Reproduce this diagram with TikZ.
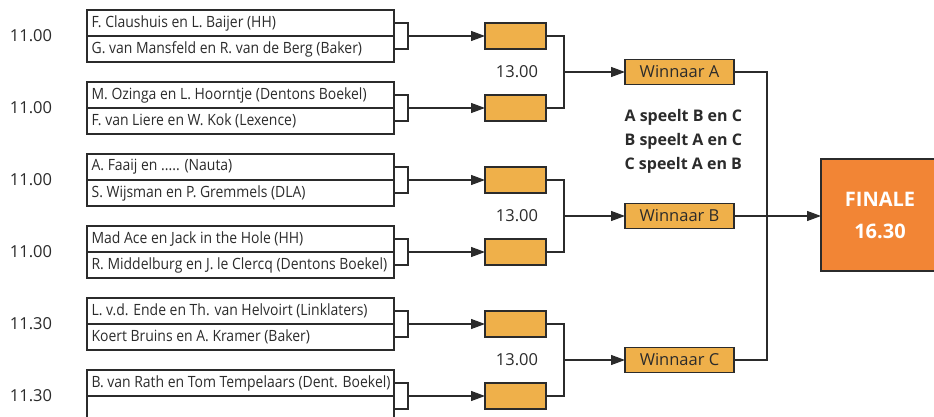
\documentclass[tikz,border=0pt]{standalone}
\usepackage{fontspec}
\setmainfont{Open Sans}
\newfontfamily\namefont[FakeStretch=0.9]{Open Sans}
\usetikzlibrary{arrows.meta,calc}
\definecolor{boxorange}{HTML}{EFB04A}
\definecolor{finorange}{HTML}{F28535}
\definecolor{linecol}{HTML}{2B2B2B}
\begin{document}
\begin{tikzpicture}[x=1pt,y=-1pt,line width=1.2pt,color=linecol,
  pairbox/.style={draw=linecol,minimum width=307pt,minimum height=52pt,inner sep=0pt,outer sep=0pt},
  nametext/.style={anchor=west,font=\namefont\fontsize{15.5}{16}\selectfont,inner sep=0pt},
  timetext/.style={font=\fontsize{16.5}{18}\selectfont,inner sep=0pt},
  obox/.style={draw=linecol,fill=boxorange,minimum width=61pt,minimum height=26pt,inner sep=0pt,outer sep=0pt},
  wbox/.style={draw=linecol,fill=boxorange,minimum width=109pt,minimum height=25pt,inner sep=0pt,outer sep=0pt,font=\fontsize{16.5}{18}\selectfont},
  finbox/.style={draw=linecol,fill=finorange,minimum width=118pt,minimum height=112pt,inner sep=0pt,outer sep=0pt,text=white,align=center,font=\bfseries\fontsize{20}{32}\selectfont},
  arr/.style={-{Triangle[length=14pt,width=10pt]}}
]
\useasboundingbox (0,0) rectangle (934,417);
\fill[white] (0,0) rectangle (934,417);
\clip (0,0) rectangle (934,417);

% pairs
\node[pairbox] (p1) at (240.5,36) {};
\node[pairbox] (p2) at (240.5,108) {};
\node[pairbox] (p3) at (240.5,180) {};
\node[pairbox] (p4) at (240.5,252) {};
\node[pairbox] (p5) at (240.5,324) {};
\node[pairbox] (p6) at (240.5,396) {};
\foreach \p in {p1,p2,p3,p4,p5,p6}{
  \draw (\p.west) -- (\p.east);
  \draw ($(\p.east)+(0,-13)$) -- ++(14,0) -- ++(0,26) -- ++(-14,0);
}

\node[nametext] (n1a) at ($(p1.west)+(4,-13)$) {F. Claushuis en L. Baijer (HH)};
\node[nametext] (n1b) at ($(p1.west)+(4,13)$) {G. van Mansfeld en R. van de Berg (Baker)};
\node[nametext] (n2a) at ($(p2.west)+(4,-13)$) {M. Ozinga en L. Hoorntje (Dentons Boekel)};
\node[nametext] (n2b) at ($(p2.west)+(4,13)$) {F. van Liere en W. Kok (Lexence)};
\node[nametext] (n3a) at ($(p3.west)+(4,-13)$) {A. Faaij en ..... (Nauta)};
\node[nametext] (n3b) at ($(p3.west)+(4,13)$) {S. Wijsman en P. Gremmels (DLA)};
\node[nametext] (n4a) at ($(p4.west)+(4,-13)$) {Mad Ace en Jack in the Hole (HH)};
\node[nametext] (n4b) at ($(p4.west)+(4,13)$) {R. Middelburg en J. le Clercq (Dentons Boekel)};
\node[nametext] (n5a) at ($(p5.west)+(4,-13)$) {L. v.d. Ende en Th. van Helvoirt (Linklaters)};
\node[nametext] (n5b) at ($(p5.west)+(4,13)$) {Koert Bruins en A. Kramer (Baker)};
\node[nametext] (n6a) at ($(p6.west)+(4,-13)$) {B. van Rath en Tom Tempelaars (Dent. Boekel)};

% times
\node[timetext] (t1) at (31,36) {11.00};
\node[timetext] (t2) at (31,108) {11.00};
\node[timetext] (t3) at (31,180) {11.00};
\node[timetext] (t4) at (31,252) {11.00};
\node[timetext] (t5) at (31,324) {11.30};
\node[timetext] (t6) at (31,396) {11.30};

% orange boxes
\node[obox] (o1) at (515.5,36) {};
\node[obox] (o2) at (515.5,108) {};
\node[obox] (o3) at (515.5,180) {};
\node[obox] (o4) at (515.5,252) {};
\node[obox] (o5) at (515.5,324) {};
\node[obox] (o6) at (515.5,396) {};
\foreach \i in {1,...,6}{
  \draw[arr] ($(p\i.east)+(14,0)$) -- (o\i.west);
}

% winners
\node[wbox] (wa) at (679.5,72) {Winnaar A};
\node[wbox] (wb) at (679.5,216) {Winnaar B};
\node[wbox] (wc) at (679.5,360) {Winnaar C};

\draw (o1.east) -- ++(18,0) |- (o2.east);
\draw (o3.east) -- ++(18,0) |- (o4.east);
\draw (o5.east) -- ++(18,0) |- (o6.east);
\draw[arr] ($(o1.east)!0.5!(o2.east)+(18,0)$) -- (wa.west);
\draw[arr] ($(o3.east)!0.5!(o4.east)+(18,0)$) -- (wb.west);
\draw[arr] ($(o5.east)!0.5!(o6.east)+(18,0)$) -- (wc.west);

\node[timetext] (h1) at (517,72) {13.00};
\node[timetext] (h2) at (517,216) {13.00};
\node[timetext] (h3) at (517,360) {13.00};

\node[anchor=west,align=left,inner sep=0pt,font=\bfseries\fontsize{16}{24}\selectfont] (rule) at (624,141) {A speelt B en C\\B speelt A en C\\C speelt A en B};

% finale
\node[finbox] (fin) at (880,215) {FINALE\\16.30};
\draw (wa.east) -- ++(33,0) |- (wc.east);
\draw[arr] (wb.east) -- (fin.west |- wb.east);
\end{tikzpicture}
\end{document}
